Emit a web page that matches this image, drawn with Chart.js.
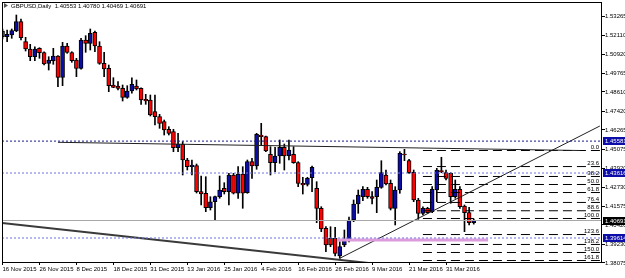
<!DOCTYPE html>
<html>
<head>
<meta charset="utf-8">
<script src="https://cdn.jsdelivr.net/npm/chart.js@4.4.1/dist/chart.umd.min.js"></script>
<style>
html, body { margin: 0; padding: 0; background: #fff; }
</style>
</head>
<body>
<canvas id="gbpchart" width="625" height="278"></canvas>
<script>
// GBPUSD daily, one entry per bar (16 Nov 2015 .. 8 Apr 2016)
var opens = [1.52361,1.52010,1.52115,1.52361,1.52934,1.51702,1.51253,1.50778,1.51296,1.51025,
  1.50372,1.50532,1.50822,1.49510,1.51437,1.51025,1.50575,1.50064,1.51807,1.51604,
  1.52281,1.51437,1.50372,1.50064,1.49036,1.48974,1.48832,1.48278,1.48666,1.48974,
  1.48832,1.48155,1.48112,1.47392,1.47084,1.46776,1.46308,1.46160,1.45175,1.45384,
  1.44417,1.44005,1.44066,1.42465,1.42367,1.41480,1.41849,1.42157,1.42675,1.42465,
  1.43494,1.42367,1.43555,1.42404,1.44313,1.44048,1.45957,1.45852,1.44768,1.44251,
  1.44664,1.45199,1.44682,1.44768,1.44251,1.42982,1.42921,1.43327,1.42675,1.41443,
  1.40211,1.39596,1.39596,1.38506,1.39183,1.39491,1.40722,1.41708,1.42157,1.42613,
  1.42157,1.42157,1.42736,1.43494,1.42982,1.41443,1.42570,1.44787,1.44374,1.43660,
  1.41954,1.41135,1.41443,1.41234,1.42570,1.43758,1.43635,1.43598,1.42157,1.42613,
  1.41585,1.41172,1.40553];
var highs = [1.52484,1.52423,1.52484,1.53346,1.53100,1.51973,1.51542,1.51394,1.51333,1.51086,
  1.50778,1.51296,1.50840,1.51665,1.51604,1.51086,1.50680,1.51911,1.52072,1.52484,
  1.52361,1.51702,1.51049,1.50267,1.49485,1.49239,1.49036,1.48993,1.49485,1.49344,
  1.48869,1.48463,1.48420,1.48420,1.47231,1.46880,1.46468,1.46308,1.46061,1.45544,
  1.44522,1.44417,1.44171,1.43432,1.43389,1.42157,1.42200,1.43432,1.43019,1.43598,
  1.43598,1.44005,1.44005,1.44417,1.44522,1.46061,1.46677,1.45895,1.45236,1.45199,
  1.45649,1.45403,1.45649,1.45236,1.44313,1.43352,1.43352,1.44048,1.43081,1.41541,
  1.40310,1.40310,1.40273,1.39386,1.40107,1.40907,1.41954,1.42570,1.42773,1.42736,
  1.42465,1.43186,1.44374,1.43801,1.43186,1.42773,1.44928,1.45076,1.44460,1.43801,
  1.42059,1.41541,1.41505,1.42773,1.43906,1.44584,1.43801,1.43635,1.43186,1.42773,
  1.41646,1.41505,1.40780];
var lows = [1.51868,1.51702,1.51911,1.52318,1.51807,1.51129,1.50532,1.50532,1.50680,1.50267,
  1.49959,1.50310,1.48931,1.48993,1.50988,1.50434,1.49547,1.50003,1.51049,1.51191,
  1.51086,1.50310,1.49547,1.48623,1.48869,1.48728,1.48050,1.48217,1.48525,1.48728,
  1.47847,1.47847,1.47127,1.46573,1.46369,1.45957,1.45957,1.44928,1.44928,1.43494,
  1.43801,1.43494,1.42385,1.41646,1.41234,1.41338,1.40722,1.42059,1.42323,1.41646,
  1.42323,1.42059,1.41443,1.42367,1.43290,1.43845,1.45341,1.44928,1.43494,1.43697,
  1.44214,1.43801,1.44417,1.44214,1.42773,1.42323,1.42816,1.42465,1.40556,1.40002,
  1.38770,1.39078,1.38506,1.38364,1.39078,1.39368,1.40618,1.41135,1.41911,1.42059,
  1.41708,1.41172,1.42675,1.42878,1.41338,1.40415,1.42367,1.44374,1.43598,1.41849,
  1.40766,1.41030,1.41135,1.41172,1.41849,1.43635,1.43186,1.41751,1.42059,1.41443,
  1.40002,1.40415,1.40469];
var closes = [1.52010,1.52158,1.52380,1.52934,1.51948,1.51253,1.50778,1.51253,1.51025,1.50329,
  1.50575,1.50822,1.49510,1.51437,1.51049,1.50532,1.50064,1.51807,1.51604,1.52219,
  1.51437,1.50372,1.50021,1.48993,1.48894,1.48832,1.48278,1.48666,1.49079,1.48789,
  1.48112,1.48050,1.47188,1.47084,1.46677,1.46265,1.46061,1.45175,1.45403,1.44417,
  1.44005,1.44109,1.42465,1.42323,1.41480,1.41849,1.42157,1.42570,1.42465,1.43494,
  1.42367,1.43555,1.42367,1.44313,1.44048,1.45998,1.45852,1.44971,1.44251,1.44664,
  1.45199,1.44664,1.45033,1.44251,1.42982,1.42878,1.43290,1.43968,1.41443,1.40168,
  1.39183,1.39183,1.38672,1.39078,1.39491,1.40722,1.41708,1.42262,1.42613,1.42157,
  1.42059,1.42736,1.43635,1.42939,1.41443,1.42570,1.44830,1.44725,1.43635,1.41954,
  1.41135,1.41443,1.41172,1.42613,1.43801,1.43697,1.43290,1.42157,1.42613,1.41541,
  1.41172,1.40553,1.40691];

// time axis labels (bar index -> text)
var dateTickIdx = [0, 8, 16, 24, 32, 40, 48, 56, 64, 72, 80, 88, 96];
var dateTickText = ['16 Nov 2015', '26 Nov 2015', '8 Dec 2015', '18 Dec 2015', '31 Dec 2015',
  '13 Jan 2016', '25 Jan 2016', '4 Feb 2016', '16 Feb 2016', '26 Feb 2016', '9 Mar 2016',
  '21 Mar 2016', '31 Mar 2016'];

// price axis
var priceTicks = [1.53265, 1.52110, 1.50920, 1.49765, 1.48610, 1.47420, 1.46265, 1.45075,
  1.43920, 1.42730, 1.41575, 1.40420, 1.39230, 1.38075];
var markedPrices = [1.45581, 1.43616, 1.39614];
var bidPrice = 1.40691;

// drawn objects
var downTrend = [{x: -0.11, y: 1.40538}, {x: 80.2, y: 1.38044}];
var upTrend = [{x: 73.0, y: 1.38364}, {x: 129.3, y: 1.46511}];
var topLine = [{x: 12, y: 1.45507}, {x: 125, y: 1.45002}];
var pinkLine = [{x: 72.4, y: 1.39491}, {x: 105.1, y: 1.39491}];
var fibStart = 91;
var fibNames = ['0.0', '23.6', '38.2', '50.0', '61.8', '76.4', '88.6', '100.0', '123.6', '138.2', '150.0', '161.8'];
var fibPrices = [1.45002, 1.44014, 1.43403, 1.42909, 1.42414, 1.41803, 1.41292, 1.40815,
  1.39827, 1.39216, 1.38722, 1.38227];

var xMin = -0.108, xMax = 129.76;
var yMin = 1.38136, yMax = 1.54147;

var wickData = [], bodyData = [], bodyColors = [];
for (var i = 0; i < opens.length; i++) {
  wickData.push({x: i, y: [lows[i], highs[i]]});
  bodyData.push({x: i, y: [opens[i], closes[i]]});
  bodyColors.push(closes[i] >= opens[i] ? '#0c0ca8' : '#ff0000');
}

function hline(p, a, b) { return [{x: a, y: p}, {x: b, y: p}]; }
function lineSet(data, color, width, dash) {
  return {type: 'line', data: data, borderColor: color, borderWidth: width,
    borderDash: dash || [], pointRadius: 0, fill: false, tension: 0, order: 0};
}

var datasets = [
  lineSet(hline(bidPrice, xMin, xMax), '#a8a8a8', 1),
  {type: 'bar', data: wickData, backgroundColor: '#000', barThickness: 1, grouped: false, order: 3},
  {type: 'bar', data: bodyData, backgroundColor: bodyColors, borderColor: '#000', borderWidth: 1,
    borderSkipped: false, barThickness: 4, grouped: false, order: 2, minBarLength: 1},
  lineSet(hline(markedPrices[0], xMin, xMax), '#1a1a90', 1, [2, 2]),
  lineSet(hline(markedPrices[1], xMin, xMax), '#7070e0', 1, [2, 2]),
  lineSet(hline(markedPrices[2], xMin, xMax), '#7070e0', 1, [2, 2]),
  lineSet(pinkLine, '#dc9cdc', 3),
  lineSet(downTrend, '#3a3a3a', 2),
  lineSet(upTrend, '#202020', 1),
  lineSet(topLine, '#202020', 1)
];
fibPrices.forEach(function (p) {
  datasets.push(lineSet(hline(p, fibStart, xMax), '#000', 1, [9, 5]));
});

var overlay = {
  id: 'overlay',
  afterDraw: function (chart) {
    var ctx = chart.ctx, a = chart.chartArea;
    var ys = chart.scales.y;
    ctx.save();
    // frame
    ctx.strokeStyle = '#000';
    ctx.lineWidth = 1;
    ctx.strokeRect(a.left + 0.5, a.top + 0.5, a.right - a.left - 1, a.bottom - a.top);
    ctx.font = '6px "Liberation Sans", Arial, sans-serif';
    ctx.textBaseline = 'middle';
    // title
    ctx.fillStyle = '#555';
    ctx.beginPath();
    ctx.moveTo(4, 3); ctx.lineTo(8, 5.5); ctx.lineTo(4, 8); ctx.closePath(); ctx.fill();
    ctx.fillStyle = '#000';
    ctx.textAlign = 'left';
    ctx.fillText('GBPUSD,Daily  1.40553 1.40780 1.40469 1.40691', 11, 6);
    // fib level names
    ctx.textAlign = 'right';
    ctx.textBaseline = 'bottom';
    fibPrices.forEach(function (p, k) {
      ctx.fillText(fibNames[k], a.right - 3, ys.getPixelForValue(p));
    });
    // price tags on the axis
    ctx.textAlign = 'left';
    ctx.textBaseline = 'middle';
    var tags = markedPrices.map(function (p) { return {p: p, bg: '#0c0ca8'}; });
    tags.push({p: bidPrice, bg: '#000'});
    tags.forEach(function (t) {
      var y = Math.round(ys.getPixelForValue(t.p));
      ctx.fillStyle = t.bg;
      ctx.fillRect(a.right + 1, y - 4, 625 - a.right, 8);
      ctx.fillStyle = '#fff';
      ctx.fillText(t.p.toFixed(5), a.right + 3, y);
    });
    ctx.restore();
  }
};

new Chart(document.getElementById('gbpchart'), {
  type: 'bar',
  data: {datasets: datasets},
  options: {
    responsive: false,
    animation: false,
    events: [],
    layout: {padding: {left: 2, top: 2, right: 0, bottom: 0}},
    plugins: {legend: {display: false}, tooltip: {enabled: false}},
    scales: {
      x: {
        type: 'linear', min: xMin, max: xMax, offset: false,
        grid: {display: true, drawOnChartArea: false, drawTicks: true, tickLength: 3, color: '#000', offset: false},
        border: {display: false},
        afterBuildTicks: function (s) { s.ticks = dateTickIdx.map(function (v) { return {value: v}; }); },
        afterFit: function (s) { s.height = 16; s.paddingLeft = 0; s.paddingRight = 0; },
        ticks: {
          autoSkip: false, maxRotation: 0, minRotation: 0, align: 'start', padding: 1, color: '#000',
          font: {family: '"Liberation Sans", Arial, sans-serif', size: 6},
          callback: function (v) { var k = dateTickIdx.indexOf(v); return k >= 0 ? dateTickText[k] : ''; }
        }
      },
      y: {
        type: 'linear', position: 'right', min: yMin, max: yMax,
        grid: {display: true, drawOnChartArea: false, drawTicks: true, tickLength: 3, color: '#000'},
        border: {display: false},
        afterBuildTicks: function (s) { s.ticks = priceTicks.map(function (v) { return {value: v}; }); },
        afterFit: function (s) { s.width = 23; s.paddingTop = 0; s.paddingBottom = 0; },
        ticks: {
          padding: 0, color: '#000',
          font: {family: '"Liberation Sans", Arial, sans-serif', size: 6},
          callback: function (v) { return v.toFixed(5); }
        }
      }
    }
  },
  plugins: [overlay]
});
</script>
</body>
</html>
